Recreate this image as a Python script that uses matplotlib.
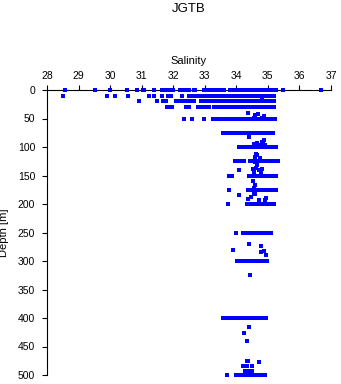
import matplotlib
matplotlib.use("Agg")
import matplotlib.pyplot as plt

# ---- data: salinity values, grouped by sampling depth (m) ----
depths = [0, 10, 20, 30, 50, 75, 100, 125, 150, 175, 200, 250, 300, 400, 500]

sal_0 = [28.58, 29.53, 30.00, 30.52, 30.84, 31.03, 31.08, 31.38, 31.65, 31.70, 31.75, 31.80,
         31.90, 31.95, 32.00, 32.20, 32.25, 32.30, 32.45, 32.50, 32.65, 32.70,
         32.98, 33.05, 33.12, 33.18, 33.25, 33.32, 33.40, 33.47, 33.55, 33.62,
         33.80, 33.87, 33.94, 34.01, 34.08, 34.15, 34.22, 34.29, 34.36, 34.43, 34.50,
         34.57, 34.64, 34.71, 34.78, 34.85, 34.92, 34.99, 35.06, 35.13, 35.20, 35.25,
         35.47, 36.68]
sal_10 = [28.52, 29.91, 30.15, 30.58, 31.24, 31.38, 31.63, 31.83, 31.88, 31.93, 32.27, 32.51,
          32.56, 32.60, 32.69, 32.75, 32.82, 32.89, 32.96, 33.03, 33.13, 33.20, 33.27, 33.35,
          33.41, 33.48, 33.55, 33.62, 33.68, 33.73, 33.80, 33.86, 33.90, 33.96, 34.03, 34.08,
          34.12, 34.25, 34.32, 34.38, 34.43, 34.50, 34.57, 34.64, 34.71, 34.78, 34.85, 34.92,
          34.99, 35.06, 35.13, 35.20]
sal_20 = [30.90, 31.50, 31.67, 31.72, 31.77, 32.09, 32.16, 32.23, 32.31, 32.40, 32.47, 32.53,
          32.58, 32.65, 32.88, 32.95, 33.02, 33.09, 33.16, 33.23, 33.30, 33.37, 33.44, 33.51,
          33.58, 33.65, 33.73, 33.80, 33.87, 33.93, 34.00, 34.07, 34.14, 34.21, 34.27, 34.30,
          34.37, 34.43, 34.50, 34.57, 34.64, 34.71, 34.78, 34.85, 34.92, 34.99, 35.06, 35.13,
          35.20]
sal_30 = [31.79, 31.87, 31.95, 32.40, 32.46, 32.51, 32.78, 32.85, 32.88, 32.97, 33.05, 33.13,
          33.30, 33.38, 33.42, 33.49, 33.56, 33.60, 33.66, 33.73, 33.80, 33.87, 33.94, 34.01,
          34.08, 34.15, 34.22, 34.29, 34.36, 34.43, 34.50, 34.57, 34.64, 34.71, 34.78, 34.85,
          34.92, 34.99, 35.06, 35.13, 35.20]
sal_50 = [32.34, 32.60, 32.98, 33.26, 33.34, 33.42, 33.55, 33.66, 33.73, 33.80, 33.87, 33.94,
          34.01, 34.08, 34.15, 34.22, 34.29, 34.36, 34.43, 34.50, 34.57, 34.64, 34.71, 34.78,
          34.85, 34.92, 34.99, 35.06, 35.13, 35.22]
sal_75 = [33.58, 33.65, 33.72, 33.80, 33.93, 34.00, 34.06, 34.12, 34.19, 34.26, 34.33, 34.40,
          34.47, 34.54, 34.61, 34.68, 34.75, 34.82, 34.89, 34.96, 35.03, 35.10, 35.17]
sal_100 = [34.09, 34.15, 34.22, 34.27, 34.38, 34.45, 34.52, 34.59, 34.66, 34.73, 34.80, 34.87,
           34.94, 35.01, 35.08, 35.15, 35.22, 35.26]
sal_125 = [33.96, 34.02, 34.09, 34.18, 34.24, 34.43, 34.50, 34.57, 34.64, 34.71, 34.78, 34.85,
           34.92, 34.99, 35.06, 35.13, 35.20, 35.27, 35.31]
sal_150 = [33.78, 33.85, 34.40, 34.47, 34.54, 34.61, 34.68, 34.75, 34.82, 34.89, 34.96, 35.03,
           35.10, 35.17, 35.26]
sal_175 = [33.78, 34.38, 34.45, 34.52, 34.59, 34.66, 34.73, 34.80, 34.87, 34.94, 35.01, 35.08,
           35.15, 35.22, 35.26]
sal_200 = [33.75, 34.33, 34.40, 34.47, 34.54, 34.61, 34.68, 34.75, 34.82, 34.89, 34.96, 35.03,
           35.10, 35.19]
sal_250 = [33.99, 34.20, 34.27, 34.34, 34.41, 34.48, 34.55, 34.62, 34.69, 34.76, 34.83, 34.90,
           34.97, 35.04, 35.09]
sal_300 = [34.03, 34.10, 34.17, 34.24, 34.30, 34.37, 34.44, 34.51, 34.58, 34.65, 34.72, 34.79,
           34.86, 34.93, 34.96]
sal_400 = [33.59, 33.66, 33.73, 33.82, 33.96, 34.03, 34.10, 34.14, 34.22, 34.29, 34.36, 34.43,
           34.50, 34.57, 34.64, 34.71, 34.78, 34.85, 34.93]
sal_500 = [33.71, 33.99, 34.06, 34.13, 34.20, 34.27, 34.34, 34.41, 34.48, 34.55, 34.62, 34.69,
           34.76, 34.83, 34.90]

# off-standard-depth samples
extra_depth = [41, 44, 42, 46, 49, 49, 12, 17, 82, 88, 95, 93, 96, 92, 95, 97, 98,
               112, 114, 120, 117, 131, 127, 138, 136, 140, 138, 140, 143, 143,
               160, 167, 172, 181, 185, 187, 192, 193, 193, 190, 183,
               270, 274, 280, 282, 285, 289, 325, 415, 427, 440,
               476, 476, 477, 485, 485, 485, 493, 493, 493]
extra_sal = [34.38, 34.59, 34.70, 34.89, 34.55, 34.80, 34.81, 34.80, 34.41, 34.88, 34.55, 34.65,
             34.72, 34.80, 34.85, 34.90, 34.62,
             34.62, 34.67, 34.75, 34.60, 34.66, 34.59, 34.53, 34.62, 34.72, 34.81, 34.09, 34.55,
             34.78,
             34.52, 34.59, 34.55, 34.57, 34.09, 34.48, 34.38, 34.72, 34.90, 34.95, 34.60,
             34.39, 34.77, 33.90, 34.87, 34.77, 34.93, 34.43, 34.41, 34.24, 34.33,
             34.33, 34.37, 34.72, 34.20, 34.33, 34.50, 34.27, 34.37, 34.50]

rows = [sal_0, sal_10, sal_20, sal_30, sal_50, sal_75, sal_100, sal_125, sal_150,
        sal_175, sal_200, sal_250, sal_300, sal_400, sal_500]

x_ticks = [28, 29, 30, 31, 32, 33, 34, 35, 36, 37]
y_ticks = [0, 50, 100, 150, 200, 250, 300, 350, 400, 450, 500]

# ---- figure ----
plt.rcParams['font.family'] = ['Liberation Sans', 'DejaVu Sans']
fig = plt.figure(figsize=(3.41, 3.84), dpi=100)
ax = fig.add_axes([47 / 341, 1 - 375 / 384, 284 / 341, 285 / 384])

mk = dict(marker='s', linestyle='none', color='#0000ff', markersize=2.3,
          markeredgewidth=0, clip_on=False, zorder=3)
for d, row in zip(depths, rows):
    ax.plot(row, [d] * len(row), **mk)
ax.plot(extra_sal, extra_depth, **mk)

ax.set_xlim(28, 37)
ax.set_ylim(500, 0)
ax.xaxis.tick_top()
ax.xaxis.set_label_position('top')
ax.set_xticks(x_ticks)
ax.set_yticks(y_ticks)
ax.tick_params(axis='both', direction='out', length=3.5, width=0.8, labelsize=7.5,
               colors='black')
ax.tick_params(axis='x', pad=3)
ax.tick_params(axis='y', pad=5)
for s in ['right', 'bottom']:
    ax.spines[s].set_visible(False)
for s in ['left', 'top']:
    ax.spines[s].set_linewidth(0.8)

ax.set_xlabel('Salinity', fontsize=8, labelpad=5)
ax.set_ylabel('Depth [m]', fontsize=8, labelpad=6)
fig.text(189 / 341, 1 - 9.5 / 384, 'JGTB', ha='center', va='center', fontsize=9.5)

fig.savefig('out.png', dpi=100)
